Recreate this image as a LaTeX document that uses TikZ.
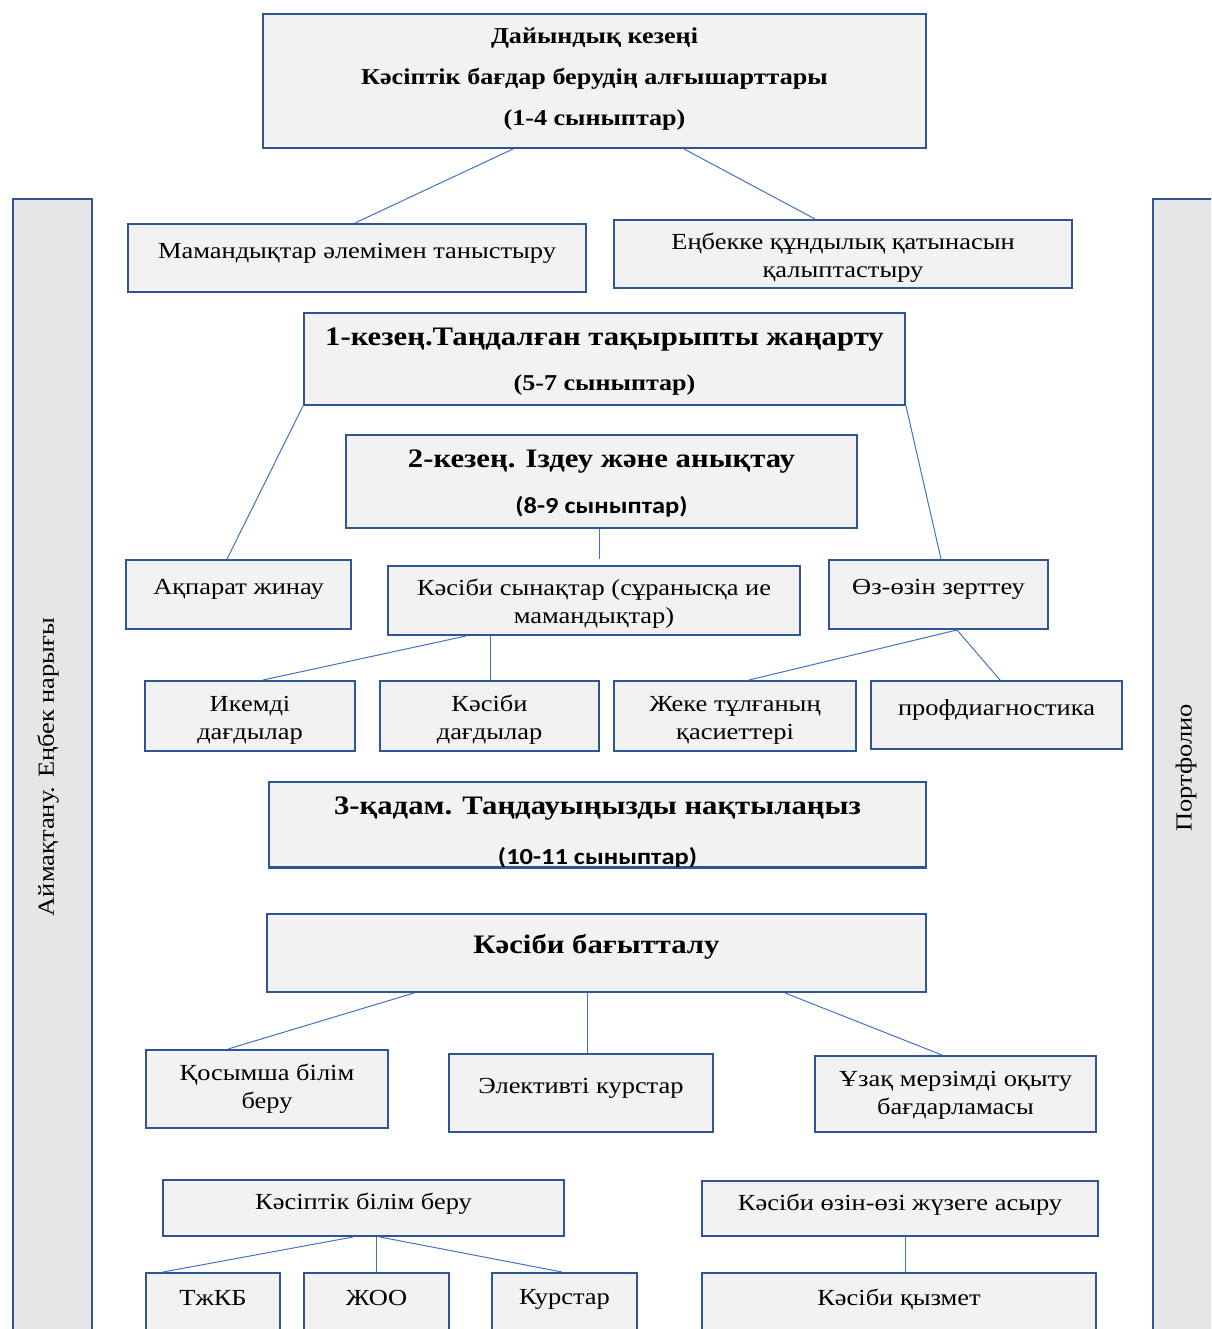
\documentclass[tikz,border=0pt]{standalone}
\usepackage{fontspec}
\setmainfont{Liberation Serif}[FakeStretch=1.15]
\newfontfamily\sansbold{Carlito}[FakeStretch=1.15]
\definecolor{boxgray}{HTML}{F2F2F2}
\definecolor{sidegray}{HTML}{E7E6E6}
\definecolor{edgeblue}{HTML}{2F5597}
\definecolor{linkblue}{HTML}{4472C4}
\newcommand{\normtext}{\fontsize{23}{28}\selectfont}
\newcommand{\headtext}{\bfseries\fontsize{22.7}{41}\selectfont}
\newcommand{\bigtext}{\bfseries\fontsize{26.7}{34}\selectfont}
\newcommand{\gradetext}{\sansbold\bfseries\fontsize{23}{28}\selectfont}
\tikzset{
  box/.style={draw=edgeblue, fill=boxgray, line width=2pt, inner sep=0pt},
  side/.style={draw=edgeblue, fill=sidegray, line width=2pt, inner sep=0pt, anchor=north west},
  link/.style={draw=linkblue, line width=1pt},
  txt/.style={font=\normtext, align=center, inner sep=0pt, yshift=-2pt},
}
\begin{document}
\begin{tikzpicture}[x=1pt, y=-1pt]
\clip (0,0) rectangle (1211,1329);
\fill[white] (0,0) rectangle (1211,1329);
% side panels
\node [side, minimum width=79, minimum height=1160] (market) at (12,198){};
\node [side, minimum width=80, minimum height=1160] (folio) at (1152,198){};
\node [txt, rotate=90, yshift=2pt] (market-t) at (50,765){Аймақтану. Еңбек нарығы};
\node [txt, rotate=90, yshift=2pt] (folio-t) at (1188,766){Портфолио};
% preparatory stage
\node [box, minimum width=663, minimum height=134] (prep) at (594.5,81){};
\node [txt, font=\headtext] (prep-t) at (594.5,77){Дайындық кезеңі\\Кәсіптік бағдар берудің алғышарттары\\(1-4 сыныптар)};
\node [box, minimum width=458, minimum height=68] (world) at (357,258){};
\node [txt] (world-t) at (357,251){Мамандықтар әлемімен таныстыру};
\node [box, minimum width=458, minimum height=68] (value) at (843,254){};
\node [txt] (value-t) at (843,256){Еңбекке құндылық қатынасын\\қалыптастыру};
% stage 1
\node [box, minimum width=601, minimum height=92] (st1) at (604.5,359){};
\node [txt, font=\bigtext] (st1-a) at (604.5,338){1-кезең.Таңдалған тақырыпты жаңарту};
\node [txt, font=\headtext] (st1-b) at (604.5,383){(5-7 сыныптар)};
% stage 2
\node [box, minimum width=511, minimum height=93] (st2) at (601.5,481.5){};
\node [txt, font=\bigtext] (st2-a) at (601.5,460){2-кезең. Іздеу және анықтау};
\node [txt, font=\gradetext] (st2-b) at (601.5,505){(8-9 сыныптар)};
\node [box, minimum width=225, minimum height=69] (info) at (238.5,594.5){};
\node [txt] (info-t) at (238.5,587){Ақпарат жинау};
\node [box, minimum width=412, minimum height=69] (tests) at (594,600.5){};
\node [txt] (tests-t) at (594,602){Кәсіби сынақтар (сұранысқа ие\\мамандықтар)};
\node [box, minimum width=219, minimum height=69] (self) at (938.5,594.5){};
\node [txt] (self-t) at (938.5,587){Өз-өзін зерттеу};
\node [box, minimum width=210, minimum height=70] (flex) at (250,716){};
\node [txt] (flex-t) at (250,718){Икемді\\дағдылар};
\node [box, minimum width=219, minimum height=70] (skill) at (489.5,716){};
\node [txt] (skill-t) at (489.5,718){Кәсіби\\дағдылар};
\node [box, minimum width=242, minimum height=70] (pers) at (735,716){};
\node [txt] (pers-t) at (735,718){Жеке тұлғаның\\қасиеттері};
\node [box, minimum width=251, minimum height=68] (diag) at (996.5,715){};
\node [txt] (diag-t) at (996.5,708){профдиагностика};
% stage 3
\node [box, minimum width=657, minimum height=85] (st3) at (597.5,824.5){};
\node [txt, font=\bigtext] (st3-a) at (597.5,807){3-қадам. Таңдауыңызды нақтылаңыз};
\begin{scope}
\clip (st3.south west) rectangle (st3.north east);
\node [txt, font=\gradetext] (st3-b) at (597.5,856){(10-11 сыныптар)};
\end{scope}
\draw [edgeblue, line width=2pt] (st3.south west) -- (st3.south east);
% orientation
\node [box, minimum width=659, minimum height=78] (orient) at (596.5,953){};
\node [txt, font=\bigtext] (orient-t) at (596.5,945){Кәсіби бағытталу};
\node [box, minimum width=242, minimum height=78] (extra) at (267,1089){};
\node [txt] (extra-t) at (267,1087){Қосымша білім\\беру};
\node [box, minimum width=264, minimum height=78] (elect) at (581,1093){};
\node [txt] (elect-t) at (581,1086){Элективті курстар};
\node [box, minimum width=281, minimum height=76] (long) at (955.5,1094){};
\node [txt] (long-t) at (955.5,1093){Ұзақ мерзімді оқыту\\бағдарламасы};
\node [box, minimum width=401, minimum height=56] (voc) at (363.5,1208){};
\node [txt] (voc-t) at (363.5,1202){Кәсіптік білім беру};
\node [box, minimum width=396, minimum height=55] (real) at (900,1208.5){};
\node [txt] (real-t) at (900,1203){Кәсіби өзін-өзі жүзеге асыру};
\node [box, minimum width=134, minimum height=80, anchor=north] (tjkb) at (213,1272){};
\node [txt] (tjkb-t) at (213,1296){ТжКБ};
\node [box, minimum width=145, minimum height=80, anchor=north] (joo) at (376.5,1272){};
\node [txt] (joo-t) at (376.5,1296){ЖОО};
\node [box, minimum width=145, minimum height=80, anchor=north] (kurs) at (564.5,1272){};
\node [txt] (kurs-t) at (564.5,1297){Курстар};
\node [box, minimum width=394, minimum height=80, anchor=north] (job) at (899,1272){};
\node [txt] (job-t) at (899,1297){Кәсіби қызмет};
% connectors
\draw [link] ([xshift=-81.5]prep.south) -- ([xshift=-2]world.north);
\draw [link] ([xshift=89.5]prep.south) -- ([xshift=-28]value.north);
\draw [link] (st1.south west) -- ([xshift=-11.5]info.north);
\draw [link] (st1.south east) -- ([xshift=2.5]self.north);
\draw [link] ([xshift=-2.5]st2.south) -- ([xshift=5,yshift=6]tests.north);
\draw [link] ([xshift=-128]tests.south) -- ([xshift=13]flex.north);
\draw [link] ([xshift=-104]tests.south) -- ([xshift=0.5]skill.north);
\draw [link] ([xshift=18.5]self.south) -- ([xshift=14]pers.north);
\draw [link] ([xshift=18.5]self.south) -- ([xshift=3.5]diag.north);
\draw [link] ([xshift=-182.5]orient.south) -- ([xshift=-39]extra.north);
\draw [link] ([xshift=-9.5]orient.south) -- ([xshift=6]elect.north);
\draw [link] ([xshift=188.5]orient.south) -- ([xshift=-13.5]long.north);
\draw [link] ([xshift=-10.5]voc.south) -- ([xshift=-50]tjkb.north);
\draw [link] ([xshift=12.5]voc.south) -- ([xshift=-0.5]joo.north);
\draw [link] ([xshift=16.5]voc.south) -- ([xshift=-2.5]kurs.north);
\draw [link] ([xshift=5]real.south) -- ([xshift=6]job.north);
\end{tikzpicture}
\end{document}
